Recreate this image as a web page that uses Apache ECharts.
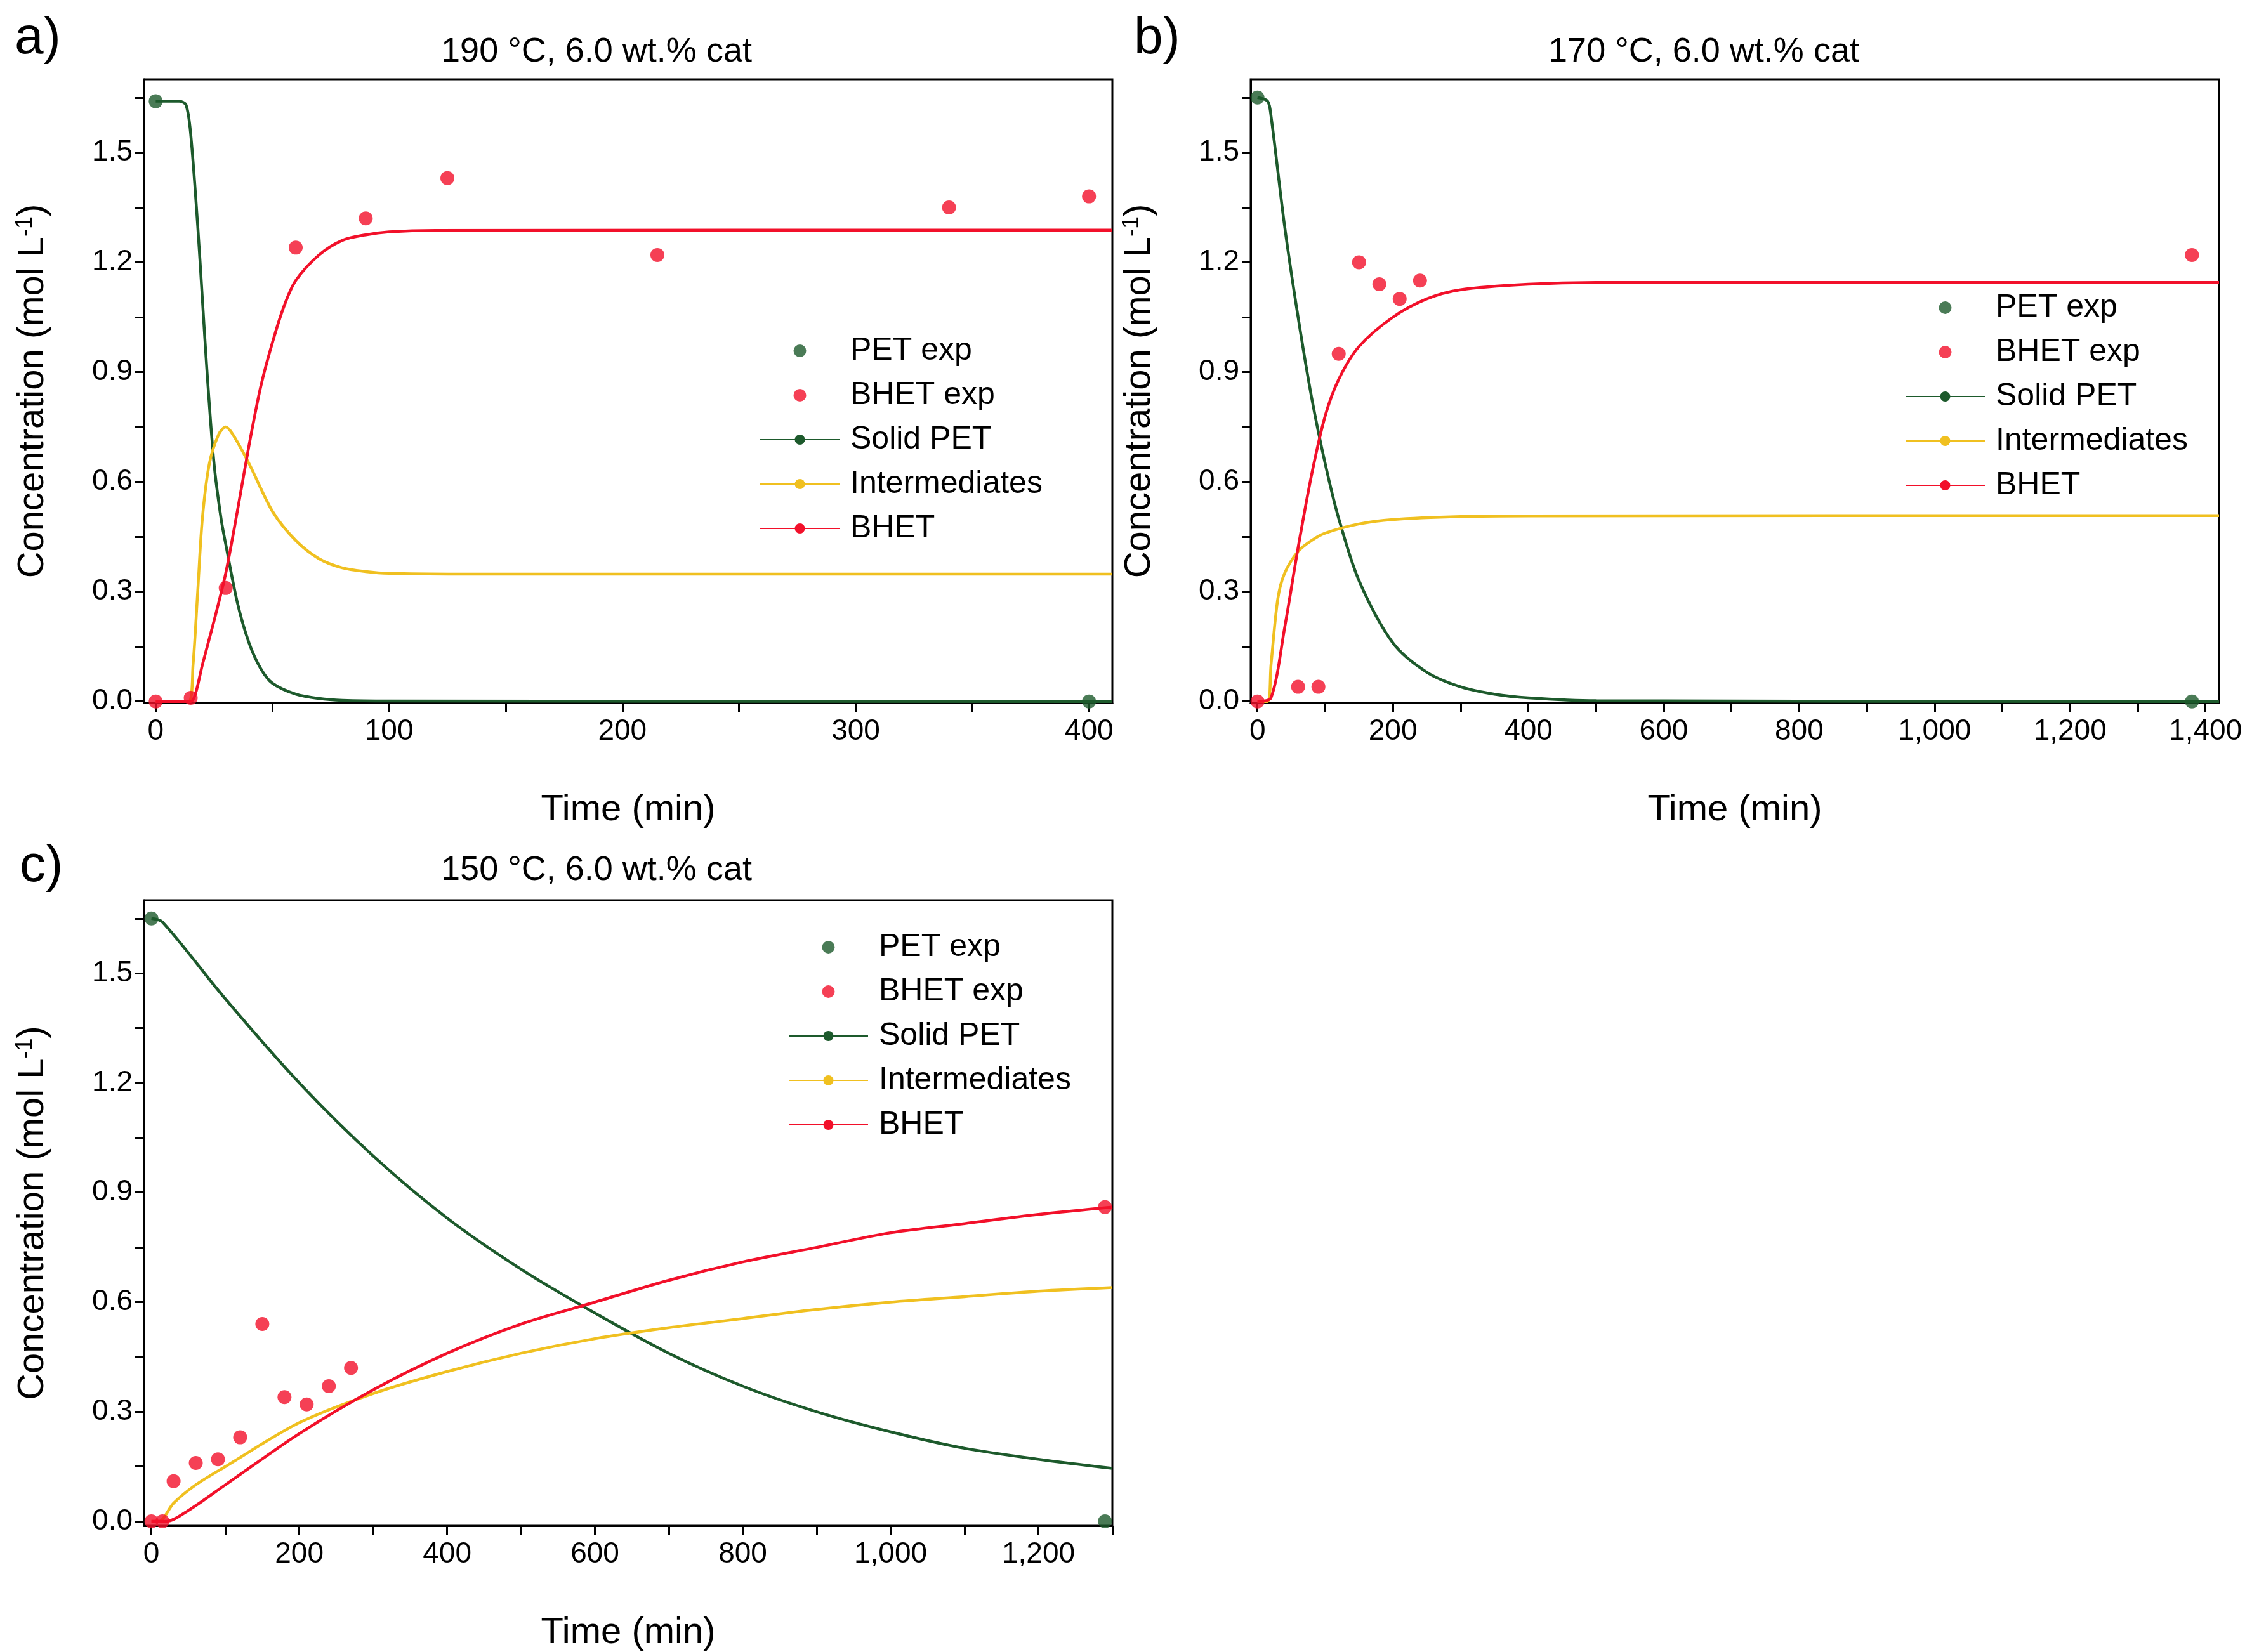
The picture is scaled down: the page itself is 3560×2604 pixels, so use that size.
<!DOCTYPE html>
<html>
<head>
<meta charset="utf-8">
<script src="https://cdn.jsdelivr.net/npm/echarts@6/dist/echarts.min.js"></script>
<style>
  html, body { margin: 0; padding: 0; background: #fff; }
  #chart { width: 3560px; height: 2604px; }
</style>
</head>
<body>
<div id="chart"></div>
<script>
// panel a) 190 °C
const aExpTime = [0, 400];
const aExpPET = [1.64, 0];
const aBhetTime = [0, 15, 30, 60, 90, 125, 215, 340, 400];
const aBhetExp = [0, 0.01, 0.31, 1.24, 1.32, 1.43, 1.22, 1.35, 1.38];
const aPetTime = [0, 10, 13, 15, 18, 20, 22, 25, 28, 30, 35, 40, 45, 50, 60, 70, 80, 100, 410];
const aPet = [1.64, 1.64, 1.63, 1.55, 1.3, 1.1, 0.9, 0.65, 0.5, 0.43, 0.27, 0.16, 0.09, 0.05, 0.02, 0.008, 0.003, 0.001, 0];
const aIntTime = [0, 14, 16, 18, 20, 23, 27, 30, 33, 40, 50, 60, 70, 80, 90, 100, 130, 410];
const aInt = [0, 0, 0.1, 0.3, 0.5, 0.65, 0.73, 0.75, 0.73, 0.65, 0.52, 0.44, 0.39, 0.365, 0.355, 0.35, 0.348, 0.348];
const aBhTime = [0, 15, 17, 20, 25, 30, 35, 40, 45, 50, 55, 60, 70, 80, 90, 100, 120, 410];
const aBh = [0, 0, 0.02, 0.1, 0.22, 0.35, 0.52, 0.7, 0.86, 0.98, 1.08, 1.15, 1.22, 1.26, 1.275, 1.283, 1.287, 1.288];

// panel b) 170 °C
const bExpTime = [0, 1380];
const bExpPET = [1.65, 0];
const bBhetTime = [0, 60, 90, 120, 150, 180, 210, 240, 1380];
const bBhetExp = [0, 0.04, 0.04, 0.95, 1.2, 1.14, 1.1, 1.15, 1.22];
const bPetTime = [0, 15, 20, 40, 60, 80, 100, 120, 150, 200, 250, 300, 350, 400, 500, 1420];
const bPet = [1.65, 1.64, 1.6, 1.3, 1.05, 0.83, 0.65, 0.5, 0.33, 0.16, 0.08, 0.04, 0.02, 0.01, 0.002, 0];
const bIntTime = [0, 15, 20, 30, 40, 60, 80, 100, 150, 200, 300, 400, 1420];
const bInt = [0, 0, 0.1, 0.28, 0.35, 0.41, 0.44, 0.46, 0.485, 0.497, 0.505, 0.507, 0.508];
const bBhTime = [0, 20, 40, 60, 80, 100, 120, 150, 200, 250, 300, 400, 500, 1420];
const bBh = [0, 0.01, 0.2, 0.42, 0.62, 0.78, 0.88, 0.97, 1.05, 1.1, 1.125, 1.14, 1.145, 1.145];

// panel c) 150 °C
const cExpTime = [0, 1290];
const cExpPET = [1.65, 0];
const cBhetTime = [0, 15, 30, 60, 90, 120, 150, 180, 210, 240, 270, 1290];
const cBhetExp = [0, 0, 0.11, 0.16, 0.17, 0.23, 0.54, 0.34, 0.32, 0.37, 0.42, 0.86];
const cPetTime = [0, 15, 100, 200, 300, 400, 500, 600, 700, 800, 900, 1000, 1100, 1200, 1300];
const cPet = [1.65, 1.64, 1.43, 1.2, 1.0, 0.83, 0.69, 0.57, 0.46, 0.37, 0.3, 0.245, 0.2, 0.17, 0.145];
const cIntTime = [0, 10, 30, 60, 100, 200, 300, 400, 500, 600, 700, 800, 900, 1000, 1100, 1200, 1300];
const cInt = [0, 0, 0.05, 0.1, 0.15, 0.27, 0.35, 0.41, 0.46, 0.5, 0.53, 0.555, 0.58, 0.6, 0.615, 0.63, 0.64];
const cBhTime = [0, 20, 50, 100, 200, 300, 400, 500, 600, 700, 800, 900, 1000, 1100, 1200, 1300];
const cBh = [0, 0, 0.03, 0.1, 0.24, 0.36, 0.46, 0.54, 0.6, 0.66, 0.71, 0.75, 0.79, 0.815, 0.84, 0.86];

// tick labels
const aXLabels = [0, 100, 200, 300, 400];
const bXLabels = [0, 200, 400, 600, 800, 1000, 1200, 1400];
const cXLabels = [0, 200, 400, 600, 800, 1000, 1200];
const yLabels = [0, 0.3, 0.6, 0.9, 1.2, 1.5];

const titles = ['190 °C, 6.0 wt.% cat', '170 °C, 6.0 wt.% cat', '150 °C, 6.0 wt.% cat'];
const letters = ['a)', 'b)', 'c)'];
const xRanges = [[-5, 410], [-10, 1420], [-10, 1300]];
const xLabelSets = [aXLabels, bXLabels, cXLabels];

const GREEN = '#1d5a2c', YELLOW = '#f0c020', RED = '#f2102a';
const FONT = 'Liberation Sans';

const panels = [
  [aExpTime, aExpPET, aBhetTime, aBhetExp, aPetTime, aPet, aIntTime, aInt, aBhTime, aBh],
  [bExpTime, bExpPET, bBhetTime, bBhetExp, bPetTime, bPet, bIntTime, bInt, bBhTime, bBh],
  [cExpTime, cExpPET, cBhetTime, cBhetExp, cPetTime, cPet, cIntTime, cInt, cBhTime, cBh]
];

const grids = [
  {left: 227, top: 125, width: 1526, height: 983},
  {left: 1971, top: 125, width: 1526, height: 983},
  {left: 227, top: 1419, width: 1526, height: 988}
];
const legendPos = [[1192, 520], [2997, 452], [1237, 1460]];
const titlePos = [[935, 50], [2680, 50], [935, 1340]];
const letterPos = [[18, 15], [1782, 15], [26, 1320]];

function zip(xs, ys) { return xs.map((x, i) => [x, ys[i]]); }
function halves(labels) {
  const out = [];
  for (let k = 0; k < labels.length; k++) {
    out.push(labels[k]);
    if (k + 1 < labels.length) out.push((labels[k] + labels[k + 1]) / 2);
  }
  return out;
}

const chart = echarts.init(document.getElementById('chart'));
const option = {
  backgroundColor: '#fff',
  animation: false,
  textStyle: {fontFamily: FONT},
  grid: grids.map(g => Object.assign({show: true, borderColor: '#000', borderWidth: 3, backgroundColor: 'transparent'}, g)),
  title: [],
  legend: [],
  xAxis: [],
  yAxis: [],
  series: []
};

panels.forEach((p, i) => {
  option.title.push({text: titles[i], left: titlePos[i][0], top: titlePos[i][1], textAlign: 'center',
    textStyle: {fontFamily: FONT, fontSize: 54, fontWeight: 'normal', color: '#000'}});
  option.title.push({text: letters[i], left: letterPos[i][0], top: letterPos[i][1],
    textStyle: {fontFamily: FONT, fontSize: 82, fontWeight: 'normal', color: '#000'}});

  const xr = xRanges[i];
  const xl = xLabelSets[i];
  const xt = halves(xl).concat([xl[xl.length - 1] + (xl[1] - xl[0]) / 2]).filter(v => v <= xr[1]);
  option.xAxis.push({
    type: 'value', gridIndex: i, min: xr[0], max: xr[1],
    name: 'Time (min)', nameLocation: 'middle', nameGap: 140,
    nameTextStyle: {fontFamily: FONT, fontSize: 58, color: '#000'},
    axisLine: {onZero: false, lineStyle: {color: '#000', width: 3}},
    axisTick: {length: 14, customValues: xt, lineStyle: {width: 3, color: '#000'}},
    axisLabel: {fontFamily: FONT, fontSize: 46, color: '#000', margin: 22, customValues: xl},
    splitLine: {show: false}
  });
  option.yAxis.push({
    type: 'value', gridIndex: i, min: i === 2 ? -0.012 : -0.004, max: 1.7,
    name: '{a|Concentration (mol L}{s|-1}{a|)}', nameLocation: 'middle', nameGap: 145,
    nameTextStyle: {rich: {a: {fontFamily: FONT, fontSize: 58, color: '#000'}, s: {fontFamily: FONT, fontSize: 36, color: '#000', verticalAlign: 'top', padding: [0, 0, 24, 0]}}},
    axisLine: {onZero: false, lineStyle: {color: '#000', width: 3}},
    axisTick: {length: 14, customValues: halves(yLabels).concat([1.65]), lineStyle: {width: 3, color: '#000'}},
    axisLabel: {fontFamily: FONT, fontSize: 46, color: '#000', margin: 18, customValues: yLabels,
      formatter: v => v.toFixed(1)},
    splitLine: {show: false}
  });

  const n = ['PET exp', 'BHET exp', 'Solid PET', 'Intermediates', 'BHET'];
  const lineS = (name, xs, ys, c) => ({name: name, type: 'line', xAxisIndex: i, yAxisIndex: i, smooth: 0.3,
    symbol: 'none', lineStyle: {color: c, width: 4.5}, itemStyle: {color: c}, data: zip(xs, ys)});
  option.series.push(
    {name: n[0], type: 'scatter', xAxisIndex: i, yAxisIndex: i, symbolSize: 22, itemStyle: {color: GREEN}, data: zip(p[0], p[1]), z: 5},
    {name: n[1], type: 'scatter', xAxisIndex: i, yAxisIndex: i, symbolSize: 22, itemStyle: {color: RED}, data: zip(p[2], p[3]), z: 5},
    lineS(n[2], p[4], p[5], GREEN),
    lineS(n[3], p[6], p[7], YELLOW),
    lineS(n[4], p[8], p[9], RED)
  );
  option.legend.push({
    orient: 'vertical', left: legendPos[i][0], top: legendPos[i][1],
    itemWidth: 125, itemHeight: 20, itemGap: 14,
    textStyle: {fontFamily: FONT, fontSize: 50, color: '#000', lineHeight: 56, padding: [0, 0, 0, 12]},
    data: n.map((nm, k) => (k < 2 ? {name: nm, icon: 'circle'} : {name: nm}))
  });
});

chart.setOption(option);
</script>
</body>
</html>
